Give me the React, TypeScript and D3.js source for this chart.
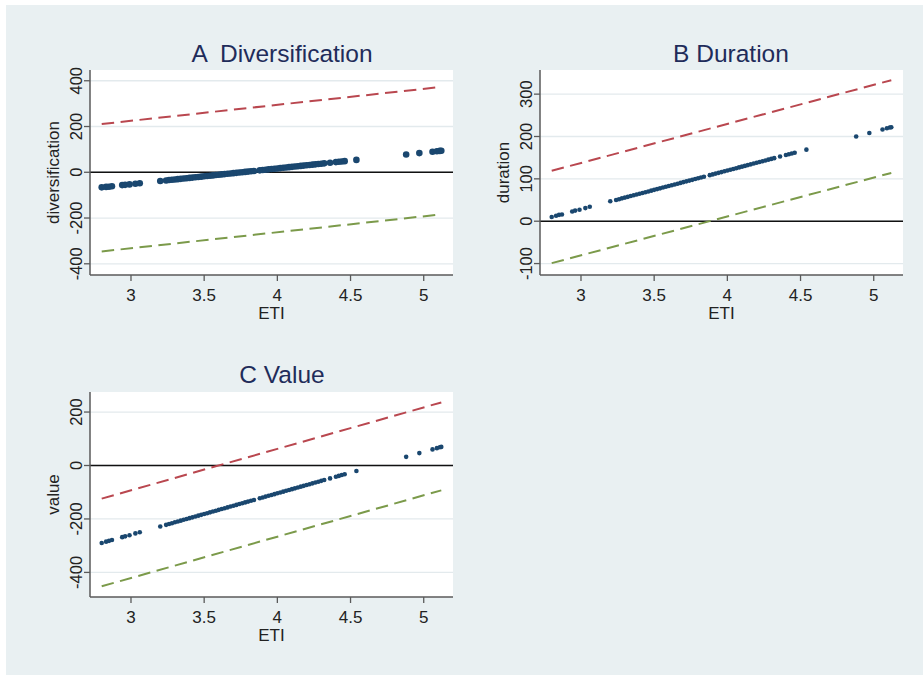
import React from "react";
import * as d3 from "d3";

// ETI values of the plotted fitted points
const eti = [
  2.8, 2.83, 2.85, 2.87, 2.94, 2.96, 2.99, 3.03, 3.06,
  3.2, 3.24, 3.26, 3.28, 3.3, 3.32, 3.34, 3.36, 3.38, 3.4, 3.42, 3.44, 3.46, 3.48,
  3.5, 3.52, 3.54, 3.56, 3.58, 3.6, 3.62, 3.64, 3.66, 3.68, 3.7, 3.72, 3.74, 3.76,
  3.78, 3.8, 3.82, 3.84, 3.88, 3.9, 3.92, 3.94, 3.96, 3.98, 4.0, 4.02, 4.04, 4.06,
  4.08, 4.1, 4.12, 4.14, 4.16, 4.18, 4.2, 4.22, 4.24, 4.26, 4.28, 4.3, 4.32, 4.36,
  4.4, 4.42, 4.44, 4.46, 4.54, 4.88, 4.97, 5.06, 5.09, 5.11, 5.12,
];

const diversification = [
  -66, -64, -63, -61, -56, -55, -53, -50, -48,
  -38, -36, -34, -33, -31.5, -30.1, -28.7, -27.4, -26.0, -24.6, -23.2, -21.8, -20.5, -19.1,
  -17.7, -16.3, -14.9, -13.6, -12.2, -10.8, -9.4, -8.0, -6.7, -5.3, -3.9, -2.5, -1.1, 0.2,
  1.6, 3.0, 4.4, 5.8, 8.5, 9.9, 11.3, 12.7, 14.0, 15.4, 16.8, 18.2, 19.6, 20.9,
  22.3, 23.7, 25.1, 26.5, 27.8, 29.2, 30.6, 32.0, 33.4, 34.7, 36.1, 37.5, 38.9, 41.6,
  44.4, 45.8, 47.2, 48.5, 54.1, 77.5, 83.7, 89.9, 92.0, 93.4, 94.1,
];

const duration = [
  10, 13, 15, 16, 23, 25, 27, 31, 34,
  47, 50, 52, 54, 55.7, 57.5, 59.4, 61.2, 63.0, 64.8, 66.7, 68.5, 70.3, 72.2,
  74.0, 75.8, 77.6, 79.5, 81.3, 83.1, 84.9, 86.8, 88.6, 90.4, 92.3, 94.1, 95.9, 97.7,
  99.6, 101.4, 103.2, 105.1, 108.7, 110.5, 112.4, 114.2, 116.0, 117.9, 119.7, 121.5, 123.3, 125.2,
  127.0, 128.8, 130.6, 132.5, 134.3, 136.1, 138.0, 139.8, 141.6, 143.4, 145.3, 147.1, 148.9, 152.6,
  156.2, 158.1, 159.9, 161.7, 169.0, 200.1, 208.3, 216.6, 219.3, 221.1, 222.0,
];

const valueFit = [
  -290, -285, -282, -279, -268, -265, -261, -254, -250,
  -228, -222, -219, -216, -212.5, -209.4, -206.3, -203.2, -200.1, -197.0, -193.9, -190.8, -187.7, -184.6,
  -181.5, -178.4, -175.3, -172.2, -169.1, -166.0, -162.9, -159.8, -156.7, -153.6, -150.5, -147.4, -144.3, -141.2,
  -138.1, -135.0, -131.9, -128.8, -122.6, -119.5, -116.4, -113.3, -110.2, -107.1, -104.0, -100.9, -97.8, -94.7,
  -91.6, -88.5, -85.4, -82.3, -79.2, -76.1, -73.0, -69.9, -66.8, -63.7, -60.6, -57.5, -54.4, -48.2,
  -42.0, -38.9, -35.8, -32.7, -20.3, 32.4, 46.4, 60.3, 65.0, 68.1, 69.6,
];

// confidence band end points (at ETI 2.8 and 5.12)
const bandEti = [2.8, 5.12];
const diversificationUpper = [211, 373];
const diversificationLower = [-346, -184];
const durationUpper = [119, 333];
const durationLower = [-99, 114];
const valueUpper = [-124, 236];
const valueLower = [-452, -93];

const xTicks = [3, 3.5, 4, 4.5, 5];
const xTickLabels = ["3", "3.5", "4", "4.5", "5"];
const diversificationTicks = [-400, -200, 0, 200, 400];
const durationTicks = [-100, 0, 100, 200, 300];
const valueTicks = [-400, -200, 0, 200];

const titles = ["A  Diversification", "B Duration", "C Value"];
const yLabels = ["diversification", "duration", "value"];
const xLabel = "ETI";

const W = 923;
const H = 675;
const FONT = "'Liberation Sans', Arial, Helvetica, sans-serif";

const NAVY = "#1a476f";
const RED = "#b9474f";
const GREEN = "#7b9a4a";
const TITLE = "#1f2c5a";
const BG = "#e9f0f2";

type Panel = {
  title: string;
  ylabel: string;
  values: number[];
  upper: number[];
  lower: number[];
  yTicks: number[];
  yDomain: [number, number];
  box: { x0: number; x1: number; y0: number; y1: number };
  titleX: number;
  titleY: number;
  r: number;
};

const panels: Panel[] = [
  {
    title: titles[0], ylabel: yLabels[0], values: diversification,
    upper: diversificationUpper, lower: diversificationLower,
    yTicks: diversificationTicks, yDomain: [-449, 447],
    box: { x0: 90, x1: 453, y0: 70, y1: 275 }, titleX: 282, titleY: 62, r: 3.3,
  },
  {
    title: titles[1], ylabel: yLabels[1], values: duration,
    upper: durationUpper, lower: durationLower,
    yTicks: durationTicks, yDomain: [-127, 357],
    box: { x0: 540, x1: 903, y0: 70, y1: 275 }, titleX: 731, titleY: 62, r: 2.3,
  },
  {
    title: titles[2], ylabel: yLabels[2], values: valueFit,
    upper: valueUpper, lower: valueLower,
    yTicks: valueTicks, yDomain: [-492, 275],
    box: { x0: 90, x1: 453, y0: 392, y1: 597 }, titleX: 282, titleY: 383, r: 2.3,
  },
];

function PanelView({ p }: { p: Panel }) {
  const { x0, x1, y0, y1 } = p.box;
  const x = d3.scaleLinear().domain([2.72, 5.2]).range([x0, x1]);
  const y = d3.scaleLinear().domain(p.yDomain).range([y1, y0]);
  const line = d3
    .line<number>()
    .x((_, i) => x(bandEti[i]))
    .y((v) => y(v));
  return (
    <g>
      <rect x={x0} y={y0} width={x1 - x0} height={y1 - y0} fill="#ffffff" />
      {p.yTicks.map((t) => (
        <line key={"g" + t} x1={x0} x2={x1} y1={y(t)} y2={y(t)} stroke="#e3eaed" strokeWidth={1.3} />
      ))}
      <line x1={x0} x2={x1} y1={y(0)} y2={y(0)} stroke="#111" strokeWidth={1.5} />
      <path d={line(p.upper) || ""} fill="none" stroke={RED} strokeWidth={2} strokeDasharray="12.5,6.5" />
      <path d={line(p.lower) || ""} fill="none" stroke={GREEN} strokeWidth={2} strokeDasharray="12.5,6.5" />
      {eti.map((e, i) => (
        <circle key={i} cx={x(e)} cy={y(p.values[i])} r={p.r} fill={NAVY} />
      ))}
      {/* axes */}
      <line x1={x0} x2={x0} y1={y0} y2={y1} stroke="#5a5a5a" strokeWidth={1.5} />
      <line x1={x0} x2={x1} y1={y1} y2={y1} stroke="#5a5a5a" strokeWidth={1.5} />
      {p.yTicks.map((t) => (
        <g key={"y" + t}>
          <line x1={x0 - 6} x2={x0} y1={y(t)} y2={y(t)} stroke="#5a5a5a" strokeWidth={1.3} />
          <text
            transform={`translate(${x0 - 8.5},${y(t)}) rotate(-90)`}
            textAnchor="middle"
            fontSize={16.5}
            fill="#222"
            fontFamily={FONT}
          >
            {String(t)}
          </text>
        </g>
      ))}
      {xTicks.map((t, i) => (
        <g key={"x" + t}>
          <line x1={x(t)} x2={x(t)} y1={y1} y2={y1 + 6} stroke="#5a5a5a" strokeWidth={1.3} />
          <text x={x(t)} y={y1 + 26} textAnchor="middle" fontSize={17} fill="#222" fontFamily={FONT}>
            {xTickLabels[i]}
          </text>
        </g>
      ))}
      <text x={(x0 + x1) / 2} y={y1 + 43.5} textAnchor="middle" fontSize={17} fill="#222" fontFamily={FONT}>
        {xLabel}
      </text>
      <text
        transform={`translate(${x0 - 31.5},${(y0 + y1) / 2}) rotate(-90)`}
        textAnchor="middle"
        fontSize={17}
        fill="#222"
        fontFamily={FONT}
      >
        {p.ylabel}
      </text>
      <text
        x={p.titleX}
        y={p.titleY}
        textAnchor="middle"
        fontSize={24.5}
        fill={TITLE}
        fontFamily={FONT}
        style={{ whiteSpace: "pre" }}
      >
        {p.title}
      </text>
    </g>
  );
}

export default function App() {
  return (
    <svg
      width={W}
      height={H}
      viewBox={`0 0 ${W} ${H}`}
      style={{ position: "absolute", left: 0, top: 0, display: "block" }}
    >
      <rect x={0} y={0} width={W} height={H} fill="#ffffff" />
      <rect x={6} y={5} width={W - 6} height={H - 5} fill={BG} />
      {panels.map((p, i) => (
        <PanelView key={i} p={p} />
      ))}
    </svg>
  );
}
